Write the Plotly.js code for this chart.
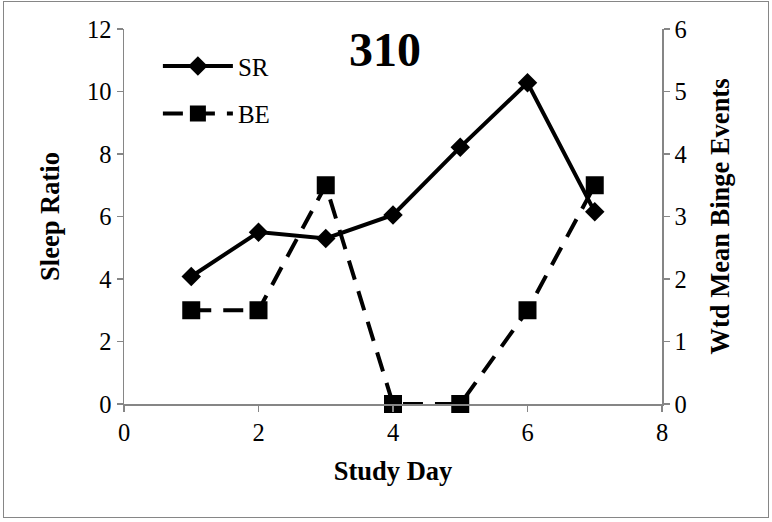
<!DOCTYPE html>
<html>
<head>
<meta charset="utf-8">
<script src="https://cdn.plot.ly/plotly-3.0.1.min.js"></script>
<style>
html,body{margin:0;padding:0;background:#fff;}
#wrap{position:relative;width:772px;height:522px;}
#chart{width:772px;height:522px;}
#frame{position:absolute;left:3px;top:1px;width:764px;height:515px;border:1.5px solid #868686;pointer-events:none;}
</style>
</head>
<body>
<div id="wrap"><div id="chart"></div><div id="frame"></div></div>
<script>
const studyDay = [1, 2, 3, 4, 5, 6, 7];
const sleepRatio = [4.08, 5.5, 5.3, 6.05, 8.22, 10.28, 6.15];
const bingeEvents = [1.5, 1.5, 3.5, 0, 0, 1.5, 3.5];
const chartTitle = "310";
const xTitle = "Study Day";
const yTitle = "Sleep Ratio";
const y2Title = "Wtd Mean Binge Events";

const font = "'Liberation Serif', serif";
const axisColor = "#868686";

const traces = [
  {x: studyDay, y: sleepRatio, name: "SR", legendgroup: "sr", type: "scatter", mode: "lines+markers", cliponaxis: false,
   line: {color: "#000", width: 4},
   marker: {symbol: "diamond", size: 15, color: "#000"}},
  {x: studyDay, y: bingeEvents, name: "BE", legendgroup: "be", type: "scatter", mode: "lines+markers", yaxis: "y2", cliponaxis: false,
   line: {color: "#000", width: 4, dash: "20px,12px"},
   marker: {symbol: "square", size: 18, color: "#000"}}
];

const tf = {family: font, size: 24.5, color: "#000"};
const af = {family: font, size: 26.5, color: "#000"};

const layout = {
  width: 772, height: 522,
  margin: {l: 124, r: 110, t: 29, b: 118},
  paper_bgcolor: "#fff", plot_bgcolor: "#fff",
  font: {family: font, color: "#000", size: 24},
  title: {text: "<b>" + chartTitle + "</b>", font: {family: font, size: 48, color: "#000"},
          x: 0.485, xanchor: "center", y: 0.905, yanchor: "middle", xref: "paper", yref: "container"},
  showlegend: true,
  legend: {x: 0.063, y: 0.962, xanchor: "left", yanchor: "top", bgcolor: "rgba(0,0,0,0)",
           font: {family: font, size: 25, color: "#000"}, itemwidth: 70, tracegroupgap: 12},
  xaxis: {range: [0, 8], dtick: 2, tick0: 0, showgrid: false, zeroline: false,
          showline: true, linecolor: axisColor, linewidth: 1.5,
          ticks: "outside", ticklen: 6, tickcolor: axisColor, tickwidth: 1.5,
          tickfont: tf,
          title: {text: "<b>" + xTitle + "</b>", font: af, standoff: 16}},
  yaxis: {range: [0, 12], dtick: 2, showgrid: false, zeroline: false,
          showline: true, linecolor: axisColor, linewidth: 1.5,
          ticks: "outside", ticklen: 6, tickcolor: axisColor, tickwidth: 1.5,
          tickfont: tf,
          title: {text: "<b>" + yTitle + "</b>", font: af, standoff: 20}},
  yaxis2: {range: [0, 6], dtick: 1, overlaying: "y", side: "right", showgrid: false, zeroline: false,
          showline: true, linecolor: axisColor, linewidth: 1.5,
          ticks: "outside", ticklen: 6, tickcolor: axisColor, tickwidth: 1.5,
          tickfont: tf,
          title: {text: "<b>" + y2Title + "</b>", font: af, standoff: 25}}
};

Plotly.newPlot("chart", traces, layout, {displayModeBar: false, staticPlot: true});
</script>
</body>
</html>
